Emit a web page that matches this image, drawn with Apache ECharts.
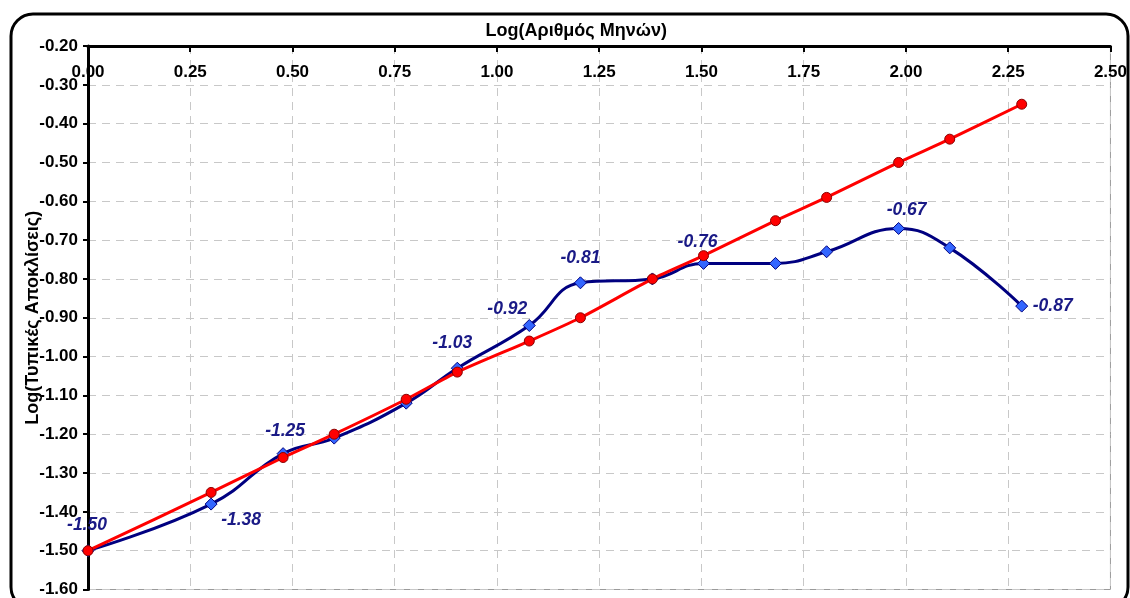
<!DOCTYPE html>
<html>
<head>
<meta charset="utf-8">
<script src="https://cdn.jsdelivr.net/npm/echarts@6/dist/echarts.min.js"></script>
<style>
  html, body { margin: 0; padding: 0; background: #ffffff; }
  #chart { width: 1130px; height: 598px; }
</style>
</head>
<body>
<div id="chart"></div>
<script>
// Log of the horizon in months (1, 2, 3, 4, 6, 8, 12, 16, 24, 32, 48, 64, 96, 128, 192)
const logMonths = [0.000, 0.301, 0.477, 0.602, 0.778, 0.903, 1.079, 1.204, 1.380, 1.505, 1.681, 1.806, 1.982, 2.107, 2.283];
// Log of the observed standard deviations
const observed = [-1.50, -1.38, -1.25, -1.21, -1.12, -1.03, -0.92, -0.81, -0.80, -0.76, -0.76, -0.73, -0.67, -0.72, -0.87];
// Log of the standard deviations under the square-root-of-time rule
const sqrtRule = [-1.50, -1.35, -1.26, -1.20, -1.11, -1.04, -0.96, -0.90, -0.80, -0.74, -0.65, -0.59, -0.50, -0.44, -0.35];
// Points of the observed series that carry a value label, with the label's shift from its point
const labelled = { 0: [-1, -26], 1: [30, 16], 2: [2, -22], 5: [-5, -25], 6: [-22, -16], 7: [0, -25], 9: [-6, -21], 12: [8, -18], 14: [31, 0] };

const xTitle = 'Log(Αριθμός Μηνών)';
const yTitle = 'Log(Τυπικές Αποκλίσεις)';

const FONT = "'Liberation Sans', Arial, sans-serif";

const observedData = logMonths.map((x, i) => {
  const item = { value: [x, observed[i]] };
  if (labelled[i]) {
    item.label = {
      show: true,
      position: 'inside',
      offset: labelled[i],
      formatter: p => p.value[1].toFixed(2),
      color: '#1a1a86',
      fontFamily: FONT,
      fontSize: 17.5,
      fontWeight: 'bold',
      fontStyle: 'italic',
      align: 'center',
      verticalAlign: 'middle'
    };
  }
  return item;
});
const ruleData = logMonths.map((x, i) => [x, sqrtRule[i]]);

const chart = echarts.init(document.getElementById('chart'), null, { renderer: 'canvas' });
chart.setOption({
  animation: false,
  backgroundColor: '#ffffff',
  grid: {
    left: 88, right: 14, top: 46, bottom: 8,
    show: true, borderColor: '#9a9a9a', borderWidth: 1, backgroundColor: 'transparent'
  },
  xAxis: {
    type: 'value',
    position: 'top',
    min: 0, max: 2.5, interval: 0.25,
    name: xTitle,
    nameLocation: 'middle',
    nameGap: 6,
    nameTextStyle: { fontFamily: FONT, fontSize: 18, fontWeight: 'bold', color: '#000', padding: [0, 46, 0, 0] },
    axisLine: { show: true, onZero: false, lineStyle: { color: '#000', width: 3 } },
    axisTick: { show: true, inside: true, length: 6, lineStyle: { color: '#000', width: 2 } },
    axisLabel: {
      inside: true, margin: 18, showMaxLabel: true, showMinLabel: true,
      formatter: v => v.toFixed(2),
      fontFamily: FONT, fontSize: 17, fontWeight: 'bold', color: '#000'
    },
    splitLine: { show: true, lineStyle: { color: '#c8c8c8', width: 1, type: [8, 6] } }
  },
  yAxis: {
    type: 'value',
    min: -1.6, max: -0.2, interval: 0.1,
    name: yTitle,
    nameLocation: 'middle',
    nameMoveOverlap: false,
    nameGap: 46,
    nameRotate: 90,
    nameTextStyle: { fontFamily: FONT, fontSize: 18, fontWeight: 'bold', color: '#000' },
    axisLine: { show: true, onZero: false, lineStyle: { color: '#000', width: 3 } },
    axisTick: { show: true, inside: false, length: 5, lineStyle: { color: '#000', width: 2 } },
    axisLabel: {
      margin: 10, showMaxLabel: true, showMinLabel: true,
      formatter: v => v.toFixed(2),
      fontFamily: FONT, fontSize: 17, fontWeight: 'bold', color: '#000'
    },
    splitLine: { show: true, lineStyle: { color: '#c8c8c8', width: 1, type: [8, 6] } }
  },
  series: [
    {
      name: 'observed',
      type: 'line',
      data: observedData,
      smooth: 0.45,
      symbol: 'diamond',
      symbolSize: 12,
      lineStyle: { color: '#000080', width: 3 },
      itemStyle: { color: '#3366ff', borderColor: '#000080', borderWidth: 1 },
      z: 2
    },
    {
      name: 'sqrt rule',
      type: 'line',
      data: ruleData,
      smooth: 0.25,
      symbol: 'circle',
      symbolSize: 10,
      lineStyle: { color: '#ff0000', width: 3 },
      itemStyle: { color: '#ff0000', borderColor: '#8b0000', borderWidth: 1 },
      z: 3
    }
  ],
  graphic: [
    {
      type: 'rect',
      shape: { x: 11, y: 14, width: 1117, height: 595, r: 22 },
      style: { fill: 'none', stroke: '#000', lineWidth: 3 },
      silent: true,
      z: 100
    }
  ]
});
</script>
</body>
</html>
